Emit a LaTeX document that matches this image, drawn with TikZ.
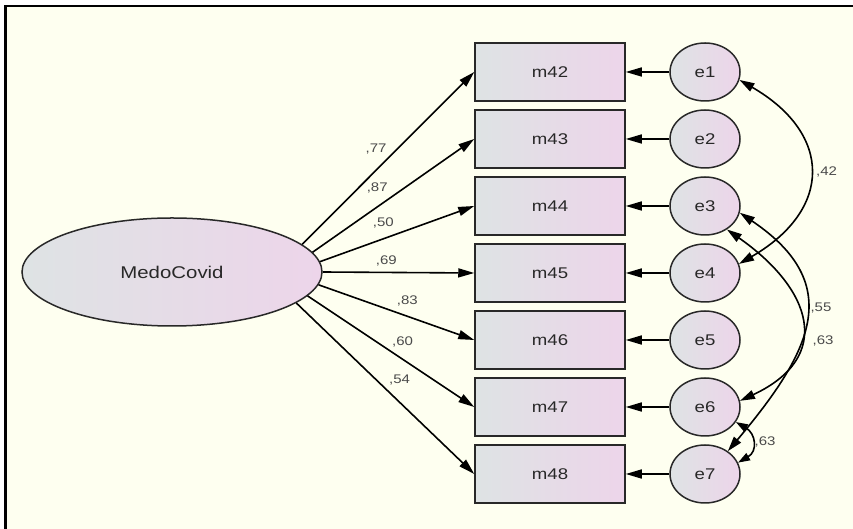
\documentclass[tikz,border=0pt]{standalone}
\usepackage{fontspec}
\setmainfont{Liberation Sans}[FakeStretch=1.2]
\usetikzlibrary{shapes.geometric,arrows.meta}
\definecolor{paper}{RGB}{254,255,240}
\definecolor{leftfill}{RGB}{222,227,228}
\definecolor{rightfill}{RGB}{237,213,234}
\definecolor{ink}{RGB}{40,40,40}
\definecolor{numgray}{RGB}{75,75,75}
\tikzset{
	obs/.style={draw=ink, line width=1.5pt, left color=leftfill, right color=rightfill, minimum width=150pt, minimum height=58pt, inner sep=0pt, text=ink, font=\fontsize{15.5}{18}\selectfont},
	err/.style={ellipse, obs, minimum width=70pt},
	latent/.style={ellipse, obs, minimum width=300pt, minimum height=108pt, font=\fontsize{17}{20}\selectfont},
	load/.style={line width=1.6pt, ->, >={Triangle[length=16pt,width=9pt]}},
	cov/.style={line width=1.6pt, <->, >={Triangle[length=15pt,width=9pt]}},
	lbl/.style={text=numgray, inner sep=2pt, font=\fontsize{12.5}{14}\selectfont}
}
\begin{document}
\begin{tikzpicture}[x=1pt,y=1pt]
		\useasboundingbox (0,0) rectangle (853,529);
		\fill[paper] (5.5,0) rectangle (853,523);
		\draw[line width=2.5pt] (5.5,0) -- (5.5,523) -- (853,523);
		
		% latent factor
		\node[latent] (medo) at (172,257) {MedoCovid};
		
		% items
		\node[obs] (m42) at (550,457) {m42};
		\node[obs] (m43) at (550,390) {m43};
		\node[obs] (m44) at (550,323) {m44};
		\node[obs] (m45) at (550,256) {m45};
		\node[obs] (m46) at (550,189) {m46};
		\node[obs] (m47) at (550,122) {m47};
		\node[obs] (m48) at (550,55) {m48};
		
		% errors
		\node[err] (e1) at (705,457) {e1};
		\node[err] (e2) at (705,390) {e2};
		\node[err] (e3) at (705,323) {e3};
		\node[err] (e4) at (705,256) {e4};
		\node[err] (e5) at (705,189) {e5};
		\node[err] (e6) at (705,122) {e6};
		\node[err] (e7) at (705,55) {e7};
		
		% loadings
		\draw[load] (medo.12) -- (m42.west) node[lbl, pos=.43, yshift=21pt] {,77};
		\draw[load] (medo.8) -- (m43.west) node[lbl, pos=.40, yshift=19pt] {,87};
		\draw[load] (medo.4) -- (m44.west) node[lbl, pos=.41, yshift=16pt] {,50};
		\draw[load] (medo.0) -- (m45.west) node[lbl, pos=.42, yshift=11pt] {,69};
		\draw[load] (medo.-5) -- (m46.west) node[lbl, pos=.57, yshift=15pt] {,83};
		\draw[load] (medo.-10) -- (m47.west) node[lbl, pos=.57, yshift=17pt] {,60};
		\draw[load] (medo.-14) -- (m48.west) node[lbl, pos=.58, yshift=22pt] {,54};
		
		% error paths
		\draw[load] (e1) -- (m42);
		\draw[load] (e2) -- (m43);
		\draw[load] (e3) -- (m44);
		\draw[load] (e4) -- (m45);
		\draw[load] (e5) -- (m46);
		\draw[load] (e6) -- (m47);
		\draw[load] (e7) -- (m48);
		
		% covariances
		\draw[cov] (e1.-13) to[out=-30, in=30, looseness=1.5] node[lbl, right=4pt] {,42} (e4.15);
		\draw[cov] (e3.-47) to[out=-35, in=25, looseness=1.55] node[lbl, midway, right=7pt, yshift=13pt] {,55} (e6.10);
		\draw[cov] (e3.-11) to[out=-34, in=50, looseness=1.38] node[lbl, midway, right=5pt, yshift=-19pt] {,63} (e7.45);
		\draw[cov, >={Triangle[length=12pt,width=8pt]}] (e6.-26) to[out=-30, in=30, looseness=1.45] node[lbl, right] {,63} (e7.19);
	\end{tikzpicture}
\end{document}
